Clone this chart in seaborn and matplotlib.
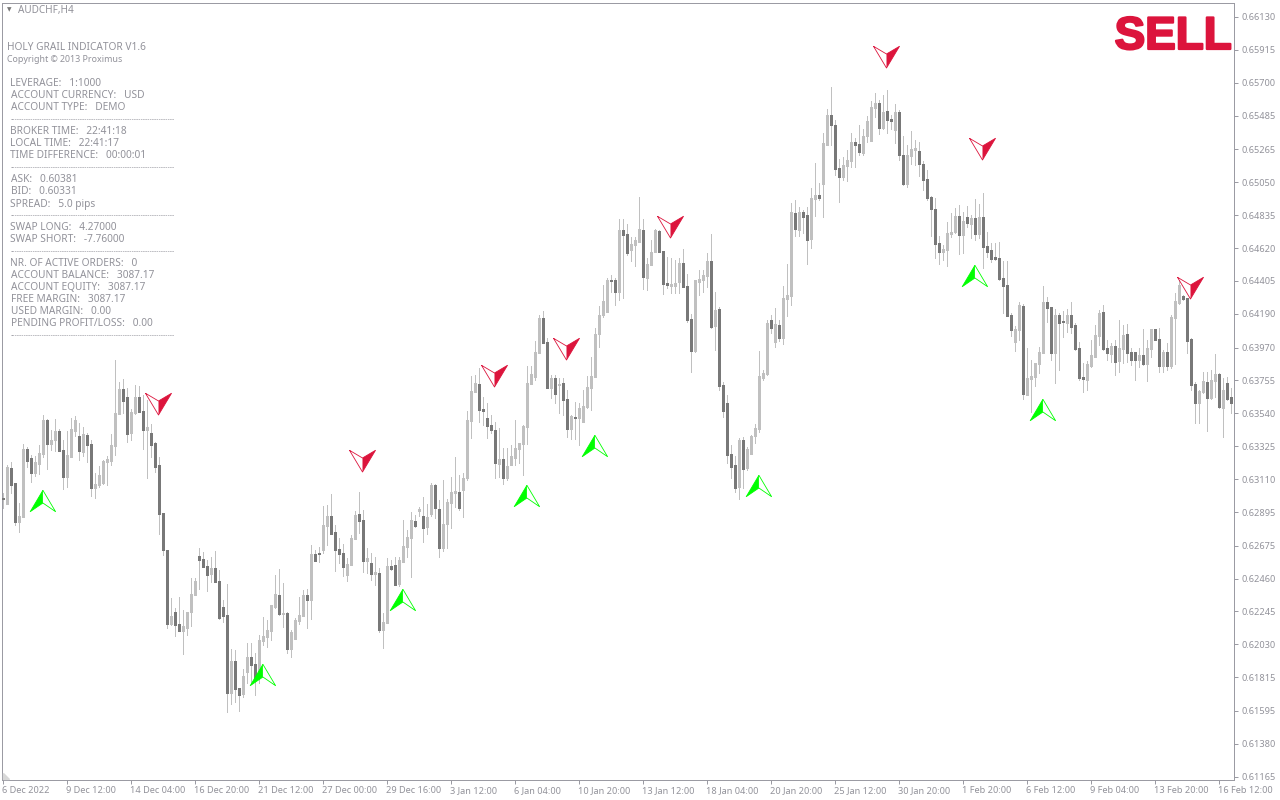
import numpy as np
import pandas as pd
import matplotlib
matplotlib.use("Agg")
import matplotlib.pyplot as plt
import matplotlib.patheffects as pe
from matplotlib.path import Path
from matplotlib.transforms import ScaledTranslation
import seaborn as sns

# AUDCHF H4 candles, prices in points (1 point = 0.00001)
highs = [
    63017,63203,63222,63083,62952,63338,63322,63266,63261,63331,
    63527,63501,63431,63501,63436,63366,63425,63510,63523,63479,
    63453,63409,63366,63148,63196,63235,63261,63405,63889,63745,
    63765,63704,63566,63725,63719,63660,63627,63470,63353,63253,
    62889,62647,62331,62266,62338,62255,62244,62462,62464,62660,
    62634,62582,62601,62641,62517,62320,62425,62000,61994,61746,
    61870,62037,62037,61972,62092,62212,62190,62288,62484,62523,
    62432,62244,62124,62201,62342,62386,62392,62680,62647,62669,
    62934,62941,63012,62810,62725,62686,62592,62745,62901,63025,
    62908,62657,62625,62599,62527,62233,62592,62581,62603,62603,
    62843,62777,62895,62875,62925,62995,62947,63086,63078,62973,
    63104,62980,63126,63254,63137,63147,63555,63783,63790,63833,
    63648,63605,63529,63485,63441,63311,63311,63333,63496,63346,
    63463,63851,63849,64012,64182,64208,64030,63790,63790,63768,
    63768,63692,63529,63614,63605,63692,63783,63910,64095,64241,
    64379,64422,64444,64422,64810,64810,64777,64690,64695,64952,
    64810,64555,64673,64745,64738,64601,64560,64553,64542,64553,
    64614,64451,64187,64412,64477,64477,64586,64712,64335,64237,
    63745,63660,63333,63262,63377,63384,63323,63399,63471,63948,
    63824,64150,64183,64226,64150,64372,64516,64913,64934,64886,
    64869,64891,65010,65174,65043,65370,65527,65673,65457,65200,
    65217,65261,65370,65337,65424,65398,65483,65581,65631,65590,
    65620,65651,65490,65561,65522,65352,65294,65385,65326,65315,
    65191,65130,64960,64945,64699,64640,64790,64847,64882,64902,
    64858,64895,64836,64941,64908,64978,64725,64651,64651,64660,
    64535,64535,64198,64111,64268,64254,63967,63889,63869,63976,
    64372,64302,64237,64220,64198,64211,64222,64268,64128,64008,
    63867,63882,64019,64117,64215,64248,64019,63997,64019,64150,
    64117,64124,63965,63941,63965,64091,64019,64091,64091,64095,
    63954,63997,64183,64324,64411,64313,64294,64030,63747,63693,
    63808,63812,63823,63928,63801,63771,63780,63703,
]
body_tops = [
    62987,63192,63183,63083,62869,63309,63307,63248,63222,63281,
    63497,63497,63366,63425,63425,63301,63268,63438,63497,63392,
    63405,63399,63340,63078,63137,63229,63242,63333,63542,63699,
    63699,63647,63549,63647,63647,63555,63451,63412,63346,63203,
    62889,62647,62216,62242,62164,62151,62242,62360,62445,62608,
    62588,62543,62530,62530,62445,62275,62222,61922,61922,61746,
    61824,61948,61948,61902,62059,62085,62124,62288,62360,62353,
    62236,62236,62111,62190,62222,62353,62353,62621,62621,62628,
    62810,62869,62869,62764,62653,62627,62553,62725,62875,62882,
    62843,62594,62562,62503,62496,62176,62542,62542,62549,62581,
    62673,62731,62843,62836,62914,62869,62862,63071,63071,62914,
    62816,62960,63025,63032,63025,63117,63496,63685,63738,63731,
    63568,63509,63463,63431,63241,63241,63195,63261,63313,63346,
    63457,63738,63796,63940,64162,64162,64006,63770,63770,63731,
    63738,63633,63522,63516,63574,63587,63712,63783,64058,64182,
    64274,64412,64412,64412,64738,64738,64712,64647,64673,64745,
    64738,64516,64595,64738,64732,64601,64392,64385,64392,64523,
    64523,64372,64157,64412,64418,64444,64536,64536,64216,64222,
    63726,63608,63275,63203,63366,63366,63307,63392,63445,63784,
    63804,64131,64150,64124,64118,64294,64314,64856,64849,64856,
    64856,64836,64947,64967,64967,65307,65490,65490,65424,65143,
    65163,65196,65313,65313,65300,65352,65450,65542,65568,65568,
    65509,65516,65463,65509,65509,65228,65228,65267,65274,65254,
    65169,65071,64954,64875,64653,64614,64719,64725,64830,64830,
    64797,64823,64817,64817,64823,64823,64634,64608,64562,64555,
    64424,64379,64183,64091,64248,64241,63771,63784,63869,63941,
    64268,64268,64235,64183,64183,64143,64183,64183,64117,63967,
    63777,63862,63921,64052,64196,64202,63967,63980,63980,63967,
    64052,64058,63941,63941,63921,63921,63967,64091,64091,64026,
    63941,63941,64170,64274,64379,64307,64294,64026,63732,63686,
    63751,63745,63758,63797,63797,63693,63738,63647,
]
body_bottoms = [
    62983,62948,63072,62830,62830,62865,63229,63150,63150,63209,
    63274,63340,63340,63366,63294,63124,63124,63255,63425,63294,
    63288,63333,63052,63052,63072,63085,63220,63229,63327,63536,
    63621,63405,63412,63542,63549,63431,63431,63333,63190,62882,
    62647,62164,62164,62157,62118,62118,62138,62242,62353,62582,
    62536,62484,62490,62438,62203,62216,61713,61713,61739,61700,
    61706,61850,61896,61798,61857,62053,62079,62118,62275,62229,
    62231,62000,62000,62066,62183,62216,62320,62320,62575,62619,
    62647,62803,62751,62647,62620,62535,62483,62549,62718,62836,
    62575,62575,62490,62490,62124,62124,62170,62522,62418,62424,
    62568,62666,62725,62803,62904,62790,62797,62882,62921,62660,
    62660,62816,62954,63019,62921,63039,63117,63489,63679,63561,
    63555,63457,63431,63215,63208,63117,63117,63202,63248,63306,
    63339,63450,63731,63777,63934,64000,63705,63705,63666,63725,
    63627,63437,63437,63509,63509,63483,63581,63705,63777,64058,
    64183,64203,64407,64333,64333,64706,64588,64608,64640,64660,
    64431,64425,64510,64595,64595,64385,64379,64372,64372,64399,
    64366,64150,63948,63948,64399,64412,64438,64105,64111,63719,
    63556,63268,63190,63052,63059,63177,63183,63275,63392,63438,
    63771,63797,64098,64006,64033,64033,64287,64307,64745,64738,
    64823,64673,64679,64941,64947,65039,65294,65424,65137,65085,
    65085,65156,65189,65294,65248,65241,65352,65320,65535,65405,
    65405,65457,65450,65392,65228,65039,65039,65222,65261,65169,
    65065,64947,64875,64647,64594,64594,64608,64712,64725,64706,
    64706,64784,64777,64712,64712,64627,64594,64549,64549,64418,
    64372,64176,64085,64006,64085,63666,63660,63764,63777,63862,
    63934,64228,63934,63934,64130,64137,64130,64104,63960,63771,
    63764,63758,63849,63908,64045,63960,63934,63928,63875,63882,
    63960,63934,63889,63889,63889,63862,63862,63960,64019,63849,
    63849,63849,63849,64163,64261,64287,64013,63725,63608,63608,
    63679,63640,63640,63751,63581,63575,63634,63608,
]
lows = [
    62922,62948,63017,62813,62765,62865,63192,63092,63131,63144,
    63257,63179,63301,63292,63294,63048,63059,63255,63392,63235,
    63261,63222,63000,62987,63061,63078,63072,63203,63266,63536,
    63540,63353,63366,63536,63549,63307,63118,63257,63157,62752,
    62615,62138,62157,62085,62118,61968,62092,62151,62353,62392,
    62536,62379,62438,62438,62194,62177,61589,61641,61652,61597,
    61689,61776,61776,61700,61776,62026,62016,62059,62266,62222,
    62146,61974,61948,62066,62164,62216,62138,62196,62575,62571,
    62625,62679,62751,62511,62559,62477,62446,62549,62718,62755,
    62505,62494,62450,62418,62111,62006,62170,62516,62418,62411,
    62568,62603,62472,62799,62869,62699,62751,62869,62853,62603,
    62640,62657,62788,62930,62908,62864,63104,63378,63679,63485,
    63463,63376,63409,63117,63126,63078,63104,63202,63202,63213,
    63137,63339,63731,63757,63932,64000,63705,63640,63605,63539,
    63529,63387,63370,63370,63333,63483,63572,63561,63777,63975,
    64172,64203,64335,64248,64281,64292,64575,64536,64503,64660,
    64353,64346,64510,64595,64595,64320,64357,64324,64329,64324,
    64366,64139,63810,63941,64314,64333,64368,64098,63954,63693,
    63516,63214,63118,63026,62981,63050,63170,63275,63344,63421,
    63758,63791,64063,63976,64015,63993,64176,64248,64699,64699,
    64717,64516,64621,64830,64934,64825,65294,65294,65098,64921,
    65065,65058,65152,65152,65230,65228,65315,65320,65474,65365,
    65396,65370,65396,65304,65196,65032,65021,65169,65163,65091,
    64999,64934,64699,64555,64516,64542,64503,64695,64716,64581,
    64586,64760,64684,64673,64684,64490,64564,64529,64542,64411,
    64193,64176,64045,63947,64019,63634,63660,63549,63719,63806,
    63934,64137,63889,63738,63823,64041,64072,64063,63954,63758,
    63679,63693,63845,63908,63987,63954,63889,63878,63791,63812,
    63867,63878,63856,63758,63845,63856,63751,63910,64019,63810,
    63810,63823,63834,63862,64254,64281,63934,63693,63479,63479,
    63671,63425,63634,63649,63573,63388,63627,63540,
]
# U = light (rising) candle, D = dark (falling) candle
directions = "".join([
    "DUDDUUDDUUUDUUDDUUUDUDDUUUUUUUDDUUDDUDDDDDUDDUUUUD",
    "DDUDDDDUDDUUDDUUUUUDUDUUUUDUDDUUDDDDUUUDDUDUDUUDDU",
    "UUUDUDUUDDUUUUDUUUUDDDDDUDUUUUUUUUUDDUDUDDUDUUUUUU",
    "UUDDUDDUUUDUUUDDDUUUDDDUUUUDUDDDDDUDUUUUUUDUDUUUDU",
    "DDUUDUUDDDUUUDDUUUUDUDDUDDUUUDDDDDDUUUUDUDUDUDDDDD",
    "DDDUUDUUUUUDDUDDUDDDDUUUUDDUDUUDDDUDUUDDUDUUUDDDDU",
    "UDUUDUDD",
])

# sell / buy signal arrows: candle index and price in points
sell_bars = [39, 90, 123, 141, 167, 221, 245, 297]
sell_prices = [63620, 63250, 63805, 63982, 64775, 65890, 65289, 64380]
buy_bars = [10, 65, 100, 131, 148, 189, 243, 260]
buy_prices = [62956, 61819, 62307, 62989, 63315, 63050, 64426, 63551]

price_labels = ["0.66130", "0.65915", "0.65700", "0.65485", "0.65265", "0.65050",
                "0.64835", "0.64620", "0.64405", "0.64190", "0.63970", "0.63755",
                "0.63540", "0.63325", "0.63110", "0.62895", "0.62675", "0.62460",
                "0.62245", "0.62030", "0.61815", "0.61595", "0.61380", "0.61165"]
time_labels = ["6 Dec 2022", "9 Dec 12:00", "14 Dec 04:00", "16 Dec 20:00", "21 Dec 12:00",
               "27 Dec 00:00", "29 Dec 16:00", "3 Jan 12:00", "6 Jan 04:00", "10 Jan 20:00",
               "13 Jan 12:00", "18 Jan 04:00", "20 Jan 20:00", "25 Jan 12:00", "30 Jan 20:00",
               "1 Feb 20:00", "6 Feb 12:00", "9 Feb 04:00", "13 Feb 20:00", "16 Feb 12:00"]

panel_lines = [
    (48, 7, "HOLY GRAIL INDICATOR V1.6"),
    (84, 10, "LEVERAGE:   1:1000"),
    (96, 11, "ACCOUNT CURRENCY:   USD"),
    (108, 11, "ACCOUNT TYPE:   DEMO"),
    (132, 10, "BROKER TIME:   22:41:18"),
    (144, 10, "LOCAL TIME:   22:41:17"),
    (156, 10, "TIME DIFFERENCE:   00:00:01"),
    (180, 11, "ASK:   0.60381"),
    (192, 11, "BID:   0.60331"),
    (204, 10, "SPREAD:   5.0 pips"),
    (228, 10, "SWAP LONG:   4.27000"),
    (240, 10, "SWAP SHORT:   -7.76000"),
    (264, 10, "NR. OF ACTIVE ORDERS:   0"),
    (276, 11, "ACCOUNT BALANCE:   3087.17"),
    (288, 11, "ACCOUNT EQUITY:   3087.17"),
    (300, 11, "FREE MARGIN:   3087.17"),
    (312, 11, "USED MARGIN:   0.00"),
    (324, 11, "PENDING PROFIT/LOSS:   0.00"),
]
dash_rows = [120, 168, 216, 252, 336]

LIGHT = "#c0c0c0"
DARK = "#787878"
CRIMSON = "#dc143c"
LIME = "#00ff00"
FRAME = "#9a9aa2"
TEXT = "#92929a"

sns.set_theme(style="white")
plt.rcParams["font.family"] = ["Noto Sans", "DejaVu Sans"]

W, H = 1280, 800
fig = plt.figure(figsize=(W / 100, H / 100), dpi=100)
# plot frame in pixels, chosen so the spines snap onto the reference's pixel rows
ax = fig.add_axes([2.2 / W, 1 - 780 / H, 1232 / W, 777 / H])


def px(x, y):
    return x / W, 1 - y / H


bars = np.arange(len(highs))
wicks = pd.DataFrame({
    "bar": np.r_[bars, bars],
    "price": np.r_[highs, lows] / 1e5,
})
bodies = pd.DataFrame({
    "bar": np.r_[bars, bars],
    "price": np.r_[body_tops, body_bottoms] / 1e5,
    "kind": list(directions) * 2,
})

# widths just under 1 and 3 pixels, so the odd-width snapping stays on pixel centres
line_kw = dict(units="bar", estimator=None, legend=False, solid_capstyle="butt", antialiased=False)
sns.lineplot(data=wicks, x="bar", y="price", color=LIGHT, linewidth=0.71, ax=ax, zorder=2, **line_kw)
sns.lineplot(data=bodies[bodies.kind == "U"], x="bar", y="price", color=LIGHT, linewidth=2.15,
             ax=ax, zorder=3, **line_kw)
sns.lineplot(data=bodies[bodies.kind == "D"], x="bar", y="price", color=DARK, linewidth=2.15,
             ax=ax, zorder=3, **line_kw)


def marker_size(path):
    # matplotlib scales a custom marker to its largest vertex
    return (2 * np.abs(path.vertices).max() * 0.72) ** 2


sell_fill = Path([(-1, 0.5), (12, 8.2), (-1, -13.5), (-1, 0.5)])
sell_edge = Path([(-14, 8.2), (-1, 0.5), (12, 8.2), (-1, -13.5), (-14, 8.2)])
buy_fill = Path([(-0.6, 0.5), (-13.3, -8.2), (-0.6, 13.2), (-0.6, 0.5)])
buy_edge = Path([(-0.6, 13.2), (12.1, -8.2), (-0.6, 0.5), (-13.3, -8.2), (-0.6, 13.2)])

for xs, ys, fill, edge, colour in [(sell_bars, sell_prices, sell_fill, sell_edge, CRIMSON),
                                   (buy_bars, buy_prices, buy_fill, buy_edge, LIME)]:
    ys = np.array(ys) / 1e5
    sns.scatterplot(x=xs, y=ys, marker=edge, s=marker_size(edge), color=(1, 1, 1, 0),
                    edgecolor=colour, linewidth=0.6, ax=ax, zorder=5, legend=False)
    sns.scatterplot(x=xs, y=ys, marker=fill, s=marker_size(fill), color=colour,
                    linewidth=0, ax=ax, zorder=6, legend=False)

ax.set_xlim(-0.25, 307.75)
ax.set_ylim(0.611437, 0.662214)
ax.set_xlabel("")
ax.set_ylabel("")

ax.yaxis.tick_right()
ax.set_yticks([float(p) for p in price_labels], price_labels)
ax.set_xticks(np.arange(len(time_labels)) * 16, time_labels, ha="left")
ax.tick_params(axis="both", which="major", length=3, width=0.71, color=FRAME, labelcolor=TEXT,
               labelsize=6.6, bottom=True, right=True, left=False)
ax.tick_params(axis="y", pad=2.5)
ax.tick_params(axis="x", pad=1.5)
nudge = ScaledTranslation(-1 / 100, 0, fig.dpi_scale_trans)
for label in ax.get_xticklabels():
    label.set_horizontalalignment("left")
    label.set_transform(label.get_transform() + nudge)
for spine in ax.spines.values():
    spine.set_color(FRAME)
    spine.set_linewidth(0.71)
    spine.set_visible(True)

# chart header and the indicator's text panel
fig.text(*px(18, 10), "AUDCHF,H4", color=TEXT, fontsize=7.2, va="center")
fig.text(*px(9, 10), "▼", color="#777777", fontsize=4.2, va="center", ha="center", family="DejaVu Sans")
for row, left, line in panel_lines:
    fig.text(*px(left, row), line, color=TEXT, fontsize=7.3, va="center")
fig.text(*px(7, 60), "Copyright © 2013 Proximus", color=TEXT, fontsize=6.4, va="center")
for row in dash_rows:
    fig.text(*px(11, row), "-" * 73, color=TEXT, fontsize=4.9, va="center", family="Liberation Sans")

fig.text(*px(1232, 37), "SELL", color=CRIMSON, fontsize=33, fontweight="bold", ha="right", va="center",
         family="Liberation Sans", zorder=10,
         path_effects=[pe.withStroke(linewidth=1.6, foreground=CRIMSON)])

# little grey corner mark of the chart window
fig.patches.append(plt.Polygon([px(3, 773), px(3, 779), px(9, 779)], closed=True, color="#d8d8d8",
                               transform=fig.transFigure, figure=fig))

fig.savefig("out.png", dpi=100)
